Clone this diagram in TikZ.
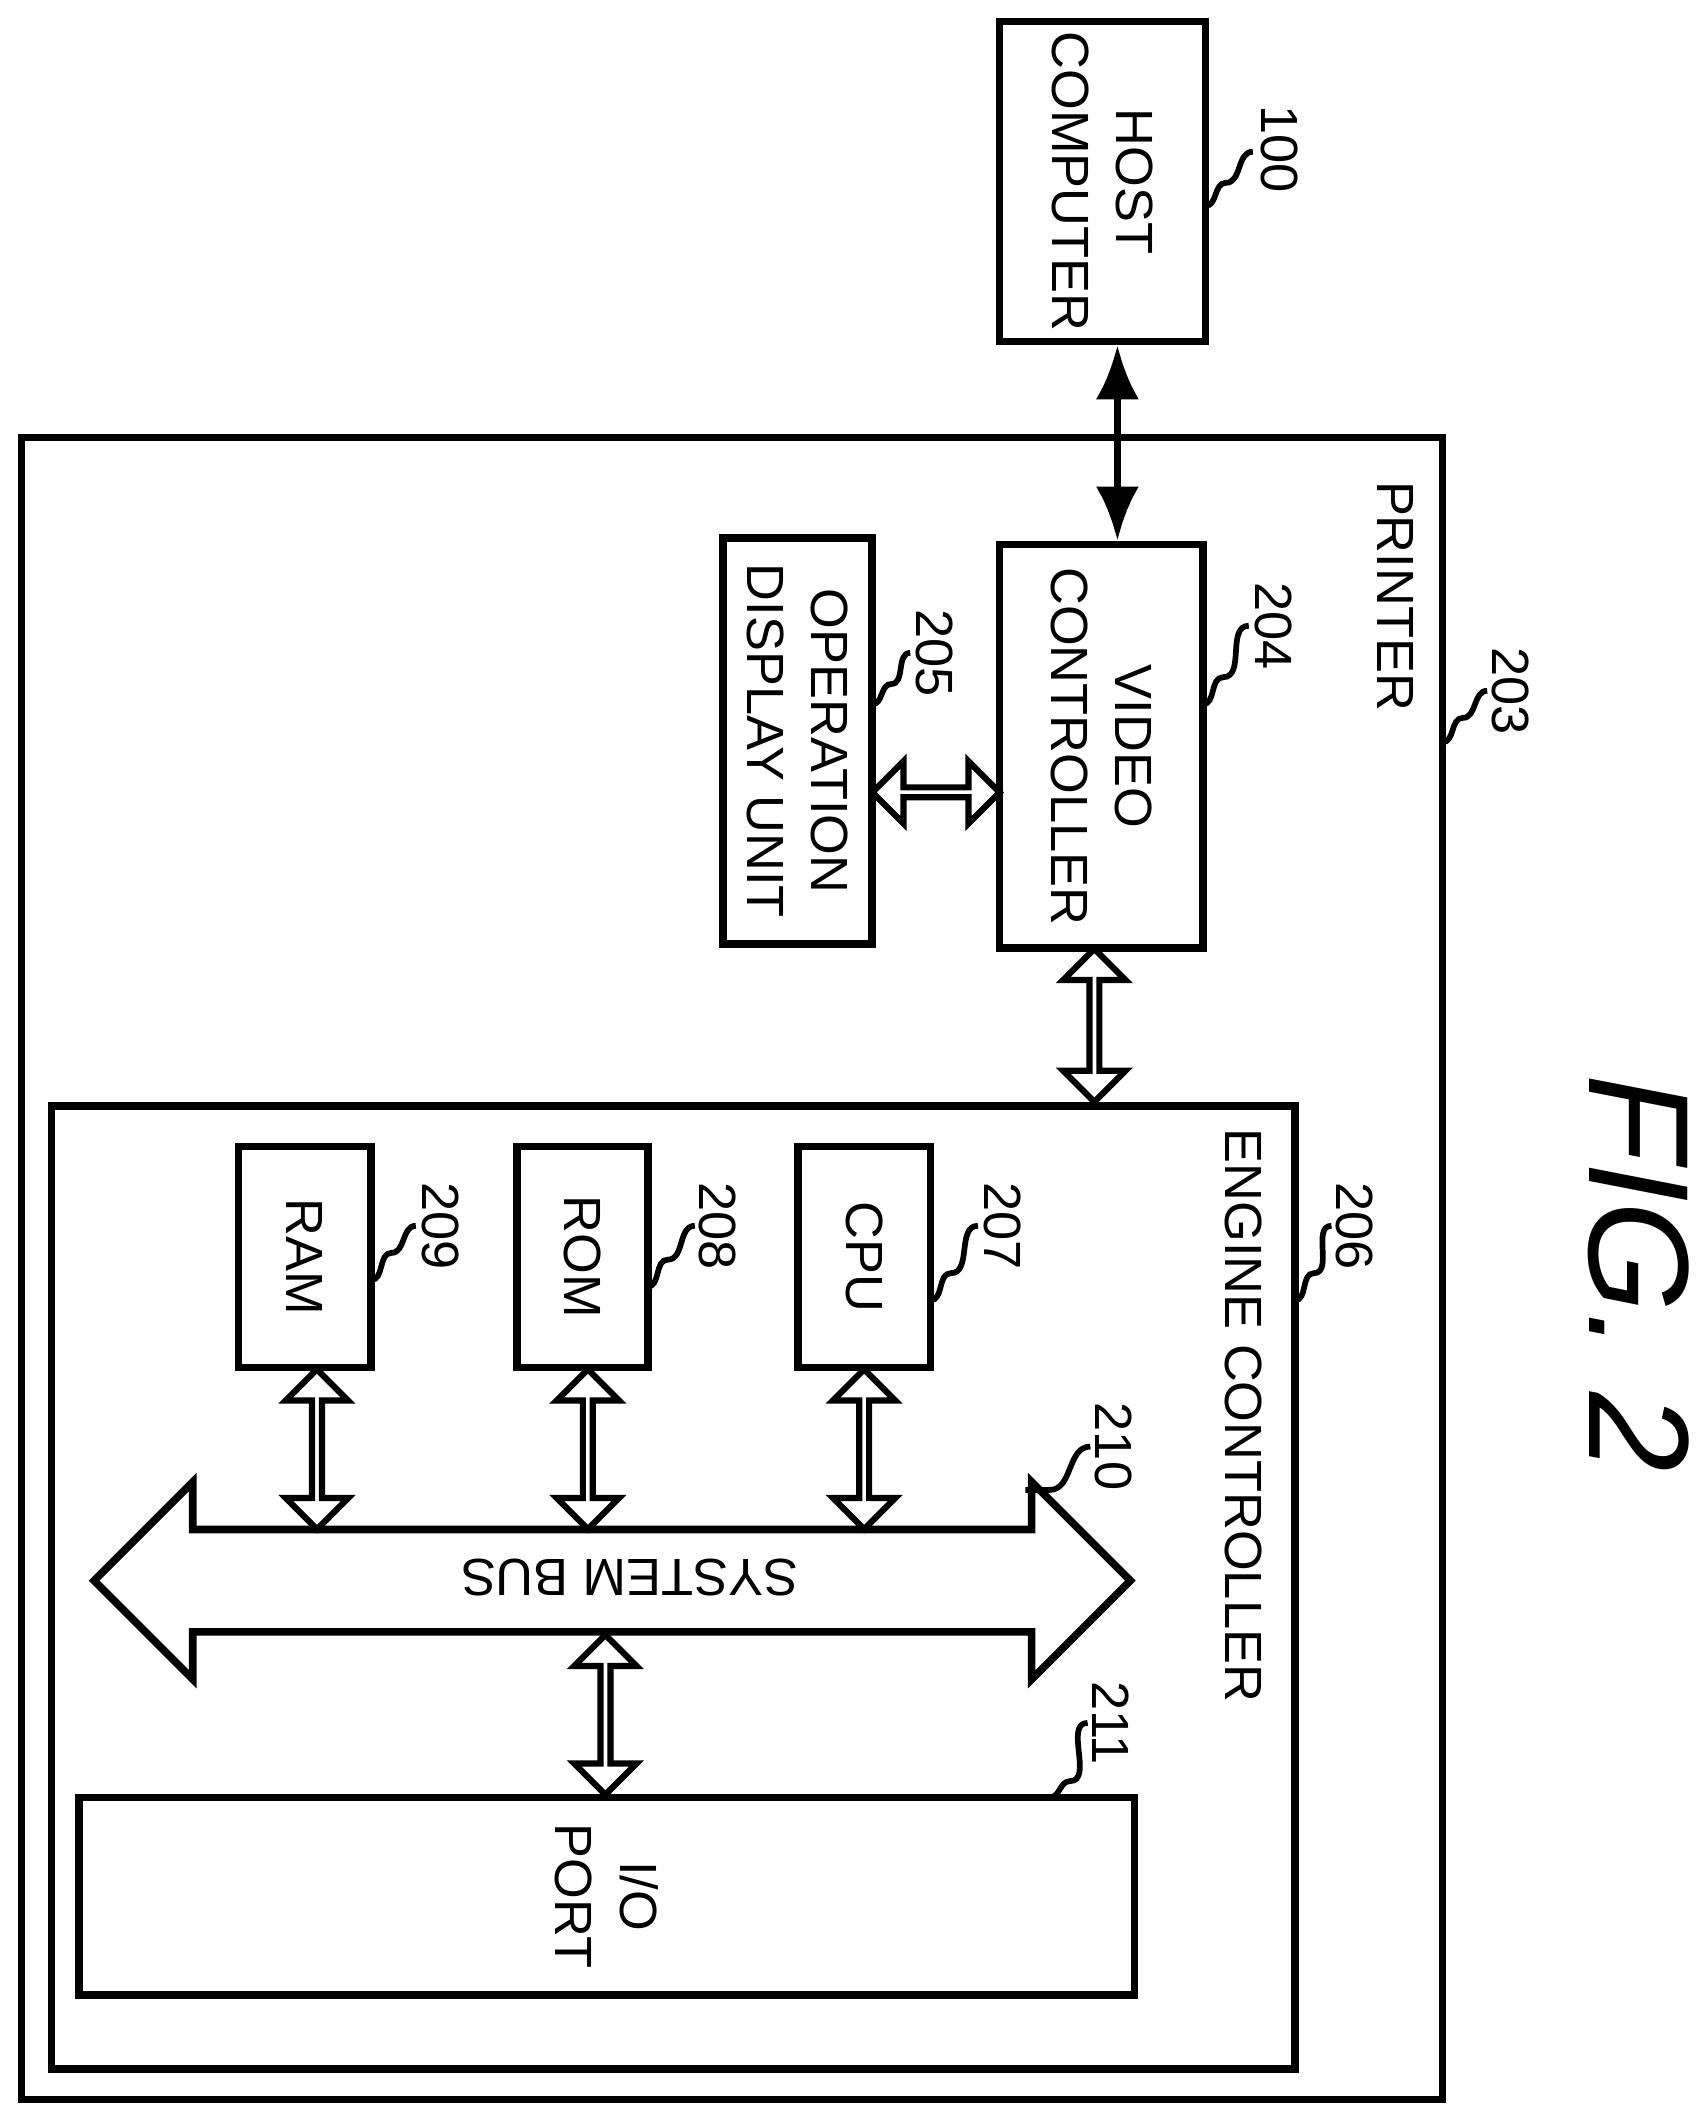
\documentclass[tikz,border=0pt]{standalone}
\usepackage{fontspec}
\setmainfont{Liberation Sans}
\usetikzlibrary{positioning,shapes.arrows,calc,arrows.meta}
\begin{document}
\begin{tikzpicture}[x=0.1mm, y=-0.1mm, thick,
  box/.style = {draw, line width=1.6pt, align=center, inner sep=0pt},
  txt/.style = {rotate=-90, align=center, font=\fontsize{11}{13.5}\selectfont},
  num/.style = {rotate=-90, font=\fontsize{11}{13}\selectfont},
  hollow/.style = {draw, double arrow, line width=1.3pt, rotate=90, inner sep=0pt,
    minimum width=4.6mm, double arrow head extend=1.2mm, double arrow head indent=0mm},
  lead/.style = {line width=1.2pt}]
\useasboundingbox (0,0) rectangle (1256,1563);
% boxes
\node[box, minimum width=152*0.1mm, minimum height=236*0.1mm] (host) at (814,134) {};
\node[txt] at (host) {HOST\\COMPUTER};
\draw[line width=1.6pt] (16,323) rectangle (1065,1550);
\node[box, minimum width=150*0.1mm, minimum height=298*0.1mm] (video) at (813,551) {};
\node[txt] at (video) {VIDEO\\CONTROLLER};
\node[box, minimum width=110*0.1mm, minimum height=300*0.1mm] (opd) at (589,547) {};
\node[txt] at (opd) {OPERATION\\DISPLAY UNIT};
\node[box, minimum width=918*0.1mm, minimum height=711*0.1mm] (engine) at (497,1172) {};
\node[box, minimum width=98*0.1mm, minimum height=163*0.1mm] (cpu) at (638,928) {};
\node[txt] at (cpu) {CPU};
\node[box, minimum width=97*0.1mm, minimum height=163*0.1mm] (rom) at (430,928) {};
\node[txt] at (rom) {ROM};
\node[box, minimum width=98*0.1mm, minimum height=163*0.1mm] (ram) at (225,928) {};
\node[txt] at (ram) {RAM};
\node[box, minimum width=779*0.1mm, minimum height=146*0.1mm] (io) at (448,1400) {};
\node[txt] at (io) {I/O\\PORT};
% system bus
\node[draw, double arrow, rotate=180, line width=1.6pt, inner xsep=0pt, inner ysep=0pt,
  text height=7mm, text depth=0pt, minimum height=765*0.1mm,
  double arrow head extend=3.5mm, double arrow head indent=0mm,
  font=\fontsize{11}{13}\selectfont] (bus) at (452,1167) {};
\node[rotate=180, font=\fontsize{11}{13}\selectfont] at (465,1165) {SYSTEM BUS};
% texts
\node[txt] at (1030,440) {PRINTER};
\node[txt] at (918,1045) {ENGINE CONTROLLER};
\node[rotate=-90, font=\fontsize{30}{36}\selectfont\itshape] at (1210,940) {FIG. 2};
% connectors
\draw[line width=1.6pt, {Latex[length=4mm,width=3.2mm]}-{Latex[length=4mm,width=3.2mm]}] (host.south -| 825,0) -- (video.north -| 825,0);
\node[hollow, rotate=-90, minimum height=94*0.1mm] at ($(opd.east)!0.5!(video.west)+(0,36)$) {};
\node[hollow, minimum height=113*0.1mm] at (808,757) {};
\node[hollow, minimum height=118*0.1mm] at (638,1070) {};
\node[hollow, minimum height=118*0.1mm] at (434,1070) {};
\node[hollow, minimum height=118*0.1mm] at (234,1070) {};
\node[hollow, minimum height=118*0.1mm] at (447,1266) {};
% numbers
\node[num] (n100) at (945,110) {100};
\draw[lead] (890,152) to[out=0,in=180] (905,135) to[out=0,in=180] (925,112);
\node[num] (n203) at (1115,510) {203};
\draw[lead] (1065,548) to[out=0,in=180] (1080,530) to[out=0,in=180] (1098,510);
\node[num] (n204) at (940,462) {204};
\draw[lead] (888,520) to[out=0,in=180] (903,500) to[out=0,in=180] (922,462);
\node[num] (n205) at (690,482) {205};
\draw[lead] (644,520) to[out=0,in=180] (658,505) to[out=0,in=180] (672,482);
\node[num] (n206) at (1000,905) {206};
\draw[lead] (956,960) to[out=0,in=180] (970,940) to[out=0,in=180] (983,905);
\node[num] (n207) at (740,905) {207};
\draw[lead] (687,960) to[out=0,in=180] (702,940) to[out=0,in=180] (722,905);
\node[num] (n208) at (530,905) {208};
\draw[lead] (478,950) to[out=0,in=180] (493,930) to[out=0,in=180] (513,905);
\node[num] (n209) at (325,905) {209};
\draw[lead] (274,945) to[out=0,in=180] (289,925) to[out=0,in=180] (307,905);
\node[num] (n210) at (822,1068) {210};
\draw[lead] (757,1100) to[out=0,in=180] (775,1100) to[out=0,in=180] (805,1068);
\node[num] (n211) at (820,1272) {211};
\draw[lead] (775,1327) to[out=0,in=180] (790,1315) to[out=0,in=180] (803,1272);
\end{tikzpicture}
\end{document}
